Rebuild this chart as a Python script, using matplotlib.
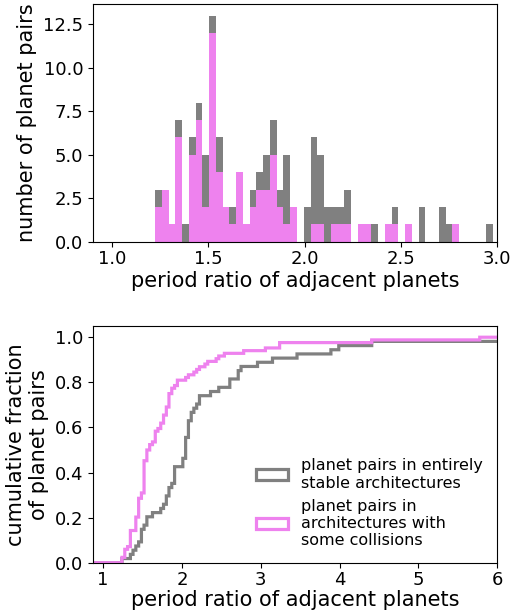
import matplotlib
matplotlib.use("Agg")
import matplotlib.pyplot as plt
import numpy as np

# top panel bins (period ratio) and counts
bin_edges = np.linspace(1.223, 2.978, 51)
collision_counts = [2, 3, 1, 6, 0, 5, 7, 2, 12, 4,
                    2, 1, 4, 1, 2, 3, 3, 5, 2, 1,
                    2, 0, 0, 1, 1, 0, 1, 1, 1, 0,
                    1, 1, 0, 0, 1, 1, 0, 1, 0, 0,
                    0, 0, 0, 0, 1, 0, 0, 0, 0, 0]
stable_counts = [1, 0, 0, 1, 1, 1, 1, 3, 1, 2,
                 0, 1, 0, 0, 1, 1, 2, 2, 1, 4,
                 0, 0, 2, 5, 4, 2, 1, 1, 2, 0,
                 0, 0, 1, 0, 0, 1, 0, 0, 0, 2,
                 0, 0, 2, 1, 0, 0, 0, 0, 0, 1]
# pairs with period ratio beyond the top panel range
collision_tail = [3.06, 3.24, 3.24, 4.41, 5.78]
stable_tail = [3.15, 3.46, 3.89, 3.99, 4.41, 7.5]

centers = 0.5 * (bin_edges[1:] + bin_edges[:-1])
collisions = np.concatenate([np.repeat(centers, collision_counts), collision_tail])
stable = np.concatenate([np.repeat(centers, stable_counts), stable_tail])

plt.rcParams['font.size'] = 13
plt.rcParams['axes.labelsize'] = 15
plt.rcParams['xtick.major.pad'] = 2.5

fig = plt.figure(figsize=(5.19, 6.15), dpi=100)
ax1 = fig.add_axes([0.179, 0.607, 0.779, 0.386])
ax2 = fig.add_axes([0.179, 0.085, 0.779, 0.385])

ax1.hist([collisions, stable], bins=bin_edges, stacked=True,
         color=['violet', 'gray'])
ax1.set_xlim(0.9, 3.0)
ax1.set_xlabel('period ratio of adjacent planets', labelpad=2)
ax1.set_ylabel('number of planet pairs')

cum_bins = np.linspace(0.5, 10, 4000)
ax2.hist(stable, bins=cum_bins, cumulative=True, density=True,
         histtype='step', color='gray', linewidth=2.3,
         label='planet pairs in entirely\nstable architectures')
ax2.hist(collisions, bins=cum_bins, cumulative=True, density=True,
         histtype='step', color='violet', linewidth=2.3,
         label='planet pairs in\narchitectures with\nsome collisions')
ax2.set_xlim(0.87, 6)
ax2.set_ylim(0, 1.05)
ax2.set_xlabel('period ratio of adjacent planets', labelpad=1)
ax2.set_ylabel('cumulative fraction\nof planet pairs')
ax2.legend(loc='lower right', frameon=False, fontsize=11.5)

fig.savefig('out.png', dpi=100)
